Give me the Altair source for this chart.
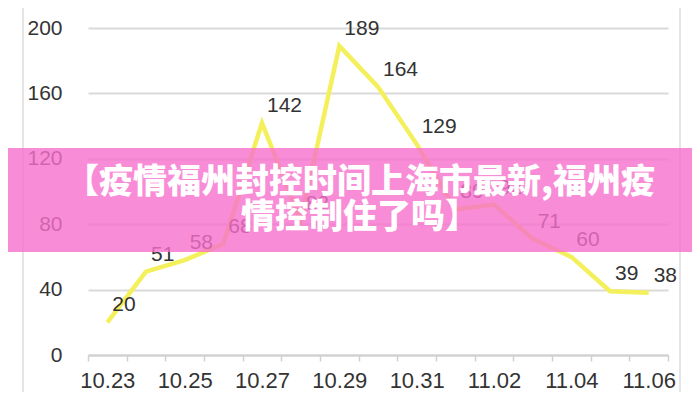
import altair as alt
import pandas as pd

dates = ["10.23", "10.24", "10.25", "10.26", "10.27", "10.28", "10.29", "10.30",
         "10.31", "11.01", "11.02", "11.03", "11.04", "11.05", "11.06"]
cases = [20, 51, 58, 68, 142, 82, 189, 164, 129, 89, 92, 71, 60, 39, 38]
y_ticks = [0, 40, 80, 120, 160, 200]
shown_labels = dates[::2]
title_lines = ["【疫情福州封控时间上海市最新,福州疫", "情控制住了吗】"]

df = pd.DataFrame({"date": dates, "cases": cases})
one = pd.DataFrame({"k": [0]})

label_list = "[" + ",".join("'%s'" % d for d in shown_labels) + "]"

x = alt.X(
    "date:O",
    sort=dates,
    scale=alt.Scale(type="band", paddingInner=0, paddingOuter=0),
    axis=alt.Axis(
        title=None, labelAngle=0, tickBand="extent",
        labelExpr="indexof(%s, datum.value) >= 0 ? datum.label : ''" % label_list,
        domainColor="#d0d0d0", domainWidth=2, tickColor="#d0d0d0", tickWidth=1.5,
        tickSize=6, labelPadding=9, labelFontSize=22, labelColor="#333333",
        labelFont="Liberation Sans", grid=False, labelOverlap=False,
    ),
)
y = alt.Y(
    "cases:Q",
    scale=alt.Scale(domain=[0, 200], nice=False),
    axis=alt.Axis(
        title=None, values=y_ticks, domain=False, ticks=False, labelPadding=26,
        grid=True, gridColor="#dadada", gridWidth=2, labelFontSize=21,
        labelColor="#333333", labelFont="Liberation Sans",
    ),
)

base = alt.Chart(df)

frame = alt.Chart(one).mark_rect(fillOpacity=0, stroke="#dddddd", strokeWidth=1.5).encode(
    x=alt.value(-65), x2=alt.value(592), y=alt.value(-40), y2=alt.value(369)
)

line = base.mark_line(color="#f4f05c", strokeWidth=4.5).encode(x=x, y=y)

labels = base.mark_text(
    align="left", baseline="middle", dx=5, dy=-17, fontSize=21,
    font="Liberation Sans", color="#333333",
).encode(x=x, y=y, text="cases:Q")

banner = alt.Chart(one).mark_rect(color="#f86fcd", opacity=0.8).encode(
    x=alt.value(-90), x2=alt.value(620), y=alt.value(120), y2=alt.value(224)
)

t1 = alt.Chart(one).mark_text(
    text=title_lines[0], fontSize=34, fontWeight=900, font="Noto Sans CJK SC",
    color="white", align="center", baseline="middle",
).encode(x=alt.value(272), y=alt.value(155))

t2 = alt.Chart(one).mark_text(
    text=title_lines[1], fontSize=34, fontWeight=900, font="Noto Sans CJK SC",
    color="white", align="center", baseline="middle",
).encode(x=alt.value(272), y=alt.value(190))

chart = alt.layer(frame, line, labels, banner, t1, t2).properties(
    width=580,
    height=327,
    autosize=alt.AutoSizeParams(type="none"),
    padding={"left": 80, "top": 20, "right": 24, "bottom": 37},
).configure_view(stroke=None)

chart.save("out.html", embed_options={"renderer": "svg", "actions": False})
